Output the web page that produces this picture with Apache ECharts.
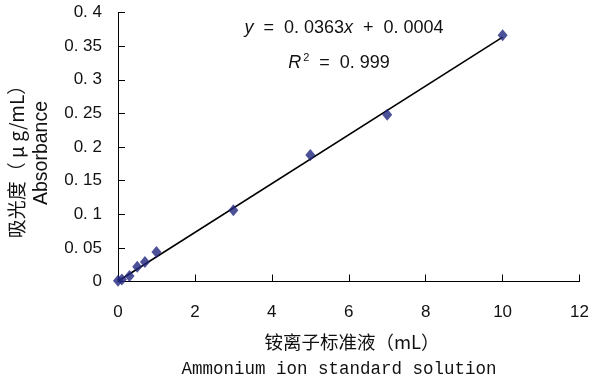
<!DOCTYPE html>
<html>
<head>
<meta charset="utf-8">
<script src="https://cdn.jsdelivr.net/npm/echarts@6/dist/echarts.min.js"></script>
<style>html,body{margin:0;padding:0;background:#fff}#c{width:592px;height:381px}</style>
</head>
<body>
<div id="c"></div>
<script>
// Data
var volumes = [0, 0.1, 0.3, 0.5, 0.7, 1.0, 3, 5, 7, 10];          // mL
var absorbance = [0.001, 0.003, 0.008, 0.022, 0.029, 0.044, 0.106, 0.188, 0.248, 0.366];
var trendX = [0, 10];
var trendY = [0.0004, 0.3634];
var xTicks = [0, 2, 4, 6, 8, 10, 12];
var yTicks = [0, 0.05, 0.1, 0.15, 0.2, 0.25, 0.3, 0.35, 0.4];
var xTitleCN = '铵离子标准液（mL）';
var xTitleEN = 'Ammonium ion standard solution';
var yTitleCN = '吸光度（ μ g/mL）';
var yTitleEN = 'Absorbance';

var pts = volumes.map(function (v, i) { return [v, absorbance[i]]; });
var line = trendX.map(function (v, i) { return [v, trendY[i]]; });

function fmtY(v) {
  if (v === 0) return '0';
  var s = String(+v.toFixed(2));
  return s.replace('.', '. ');
}

var chart = echarts.init(document.getElementById('c'), null, {renderer: 'canvas'});
var axisFont = {color: '#111', fontSize: 17, fontFamily: 'Liberation Sans, Arial, sans-serif'};
chart.setOption({
  animation: false,
  backgroundColor: '#fff',
  grid: {left: 118, right: 11, top: 12.5, bottom: 99.5, containLabel: false},
  xAxis: {
    type: 'value', min: xTicks[0], max: xTicks[xTicks.length - 1], interval: 2,
    axisLine: {lineStyle: {color: '#000', width: 1}},
    axisTick: {inside: true, length: 7, lineStyle: {color: '#000'}},
    splitLine: {show: false},
    axisLabel: Object.assign({margin: 22}, axisFont)
  },
  yAxis: {
    type: 'value', min: yTicks[0], max: yTicks[yTicks.length - 1], interval: 0.05,
    axisLine: {show: true, lineStyle: {color: '#000', width: 1}},
    axisTick: {show: true, inside: true, length: 7, lineStyle: {color: '#000'}},
    splitLine: {show: false},
    axisLabel: Object.assign({margin: 16, formatter: fmtY}, axisFont)
  },
  graphic: [
    {type: 'text', x: 352, y: 342, style: {text: xTitleCN, fill: '#111', font: '18.5px "Noto Sans CJK SC"', align: 'center', verticalAlign: 'middle'}},
    {type: 'text', x: 339, y: 369, style: {text: xTitleEN, fill: '#111', font: '17.5px "Liberation Mono", "DejaVu Sans Mono", monospace', align: 'center', verticalAlign: 'middle'}},
    {type: 'text', x: 17, y: 157, rotation: Math.PI / 2, style: {text: yTitleCN, fill: '#111', font: '19px "Noto Sans CJK SC"', align: 'center', verticalAlign: 'middle'}},
    {type: 'text', x: 42, y: 153, rotation: Math.PI / 2, style: {text: yTitleEN, fill: '#111', font: '19.5px "Liberation Sans", Arial, sans-serif', align: 'center', verticalAlign: 'middle'}},
    {type: 'text', x: 344, y: 28, style: {
      text: '{i|y}  =  0. 0363{i|x}  +  0. 0004', fill: '#111', align: 'center', verticalAlign: 'middle',
      font: '18px "Liberation Sans", Arial, sans-serif',
      rich: {i: {fontStyle: 'italic', fontSize: 18, fontFamily: 'Liberation Sans'}}
    }},
    {type: 'text', x: 339, y: 63, style: {
      text: '{i|R}{s|2}  =  0. 999', fill: '#111', align: 'center', verticalAlign: 'middle',
      font: '18px "Liberation Sans", Arial, sans-serif',
      rich: {i: {fontStyle: 'italic', fontSize: 18, fontFamily: 'Liberation Sans'}, s: {fontSize: 11, verticalAlign: 'top', padding: [0, 0, 10, 2]}}
    }}
  ],
  series: [
    {
      type: 'line', data: line, symbol: 'none', silent: true,
      lineStyle: {color: '#000', width: 1.6}, z: 2
    },
    {
      type: 'scatter', data: pts, symbol: 'diamond', symbolSize: [10, 12],
      itemStyle: {color: '#20267E'}, z: 3
    }
  ]
});
</script>
</body>
</html>
